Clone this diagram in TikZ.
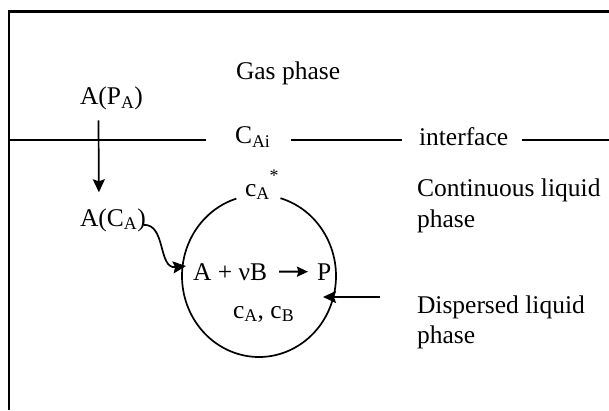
\documentclass[tikz,border=0pt]{standalone}
\usepackage{fontspec}
\setmainfont{Liberation Serif}
\usetikzlibrary{arrows.meta,calc}
\begin{document}
\begin{tikzpicture}[x=1pt,y=1pt,
  every node/.style={inner sep=0pt, outer sep=0pt, font=\fontsize{25.5}{30}\selectfont},
  lbl/.style={anchor=base west},
  ln/.style={line width=1.7pt},
  arr/.style={line width=1.7pt, -{Stealth[length=13pt,width=12pt,inset=2pt]}},
  rarr/.style={line width=2pt, -{Stealth[length=11pt,width=10pt,inset=1.5pt]}}]
\useasboundingbox (0,0) rectangle (609,410);
% frame
\coordinate (ftl) at (9,398.5);
\coordinate (fr) at (609,398.5);
\coordinate (fb) at (9,0);
\draw[line width=2.8pt] (fb) -- (ftl) -- (fr);
% labels
\node[lbl] (gas) at (236,330) {Gas phase};
\node[lbl] (ap) at (80,305) {A(P\textsubscript{A})};
\node[lbl] (ac) at (80,184) {A(C\textsubscript{A})};
\node[lbl] (cai) at (235,266) {C\textsubscript{Ai}};
\node[lbl] (iface) at (419,264) {interface};
\node[lbl] (cont) at (417,214) {Continuous liquid};
\node[lbl] (contb) at (417,183) {phase};
\node[lbl] (disp) at (417,97) {Dispersed liquid};
\node[lbl] (dispb) at (417,67) {phase};
\node[lbl] (cst) at (245,214) {c\textsubscript{A}\raisebox{5pt}{\textsuperscript{*}}};
\node[lbl] (rl) at (193,130) {A + νB};
\node[lbl] (rp) at (317,130) {P};
\node[lbl] (cab) at (233,92) {c\textsubscript{A}, c\textsubscript{B}};
% interface line
\coordinate (il) at (9,270);
\coordinate (i1) at (206,270);
\coordinate (i2) at (291,270);
\coordinate (i3) at (402,270);
\coordinate (i4) at (522,270);
\coordinate (ir) at (609,270);
\draw[ln] (il) -- (i1);
\draw[ln] (i2) -- (i3);
\draw[ln] (i4) -- (ir);
% droplet
\coordinate (cc) at (259,134);
\draw[ln] ($(cc)+(73.8:77 and 81)$) arc[start angle=73.8, end angle=-252.9, x radius=77, y radius=81];
% arrows
\draw[arr] ([xshift=-13pt,yshift=-10pt]ap.south) -- ([xshift=-14pt,yshift=16pt]ac.north);
\coordinate (sq0) at ([xshift=-2pt,yshift=-5pt]ac.east);
\coordinate (cin) at (186,144);
\draw[arr] (sq0) .. controls (166,186) and (158,141) .. (cin);
\coordinate (rs) at (380,113);
\coordinate (rt) at (323,113);
\draw[arr] (rs) -- (rt);
\draw[rarr, shorten <=12pt, shorten >=9pt] (rl.east) -- (rp.west);
\end{tikzpicture}
\end{document}
